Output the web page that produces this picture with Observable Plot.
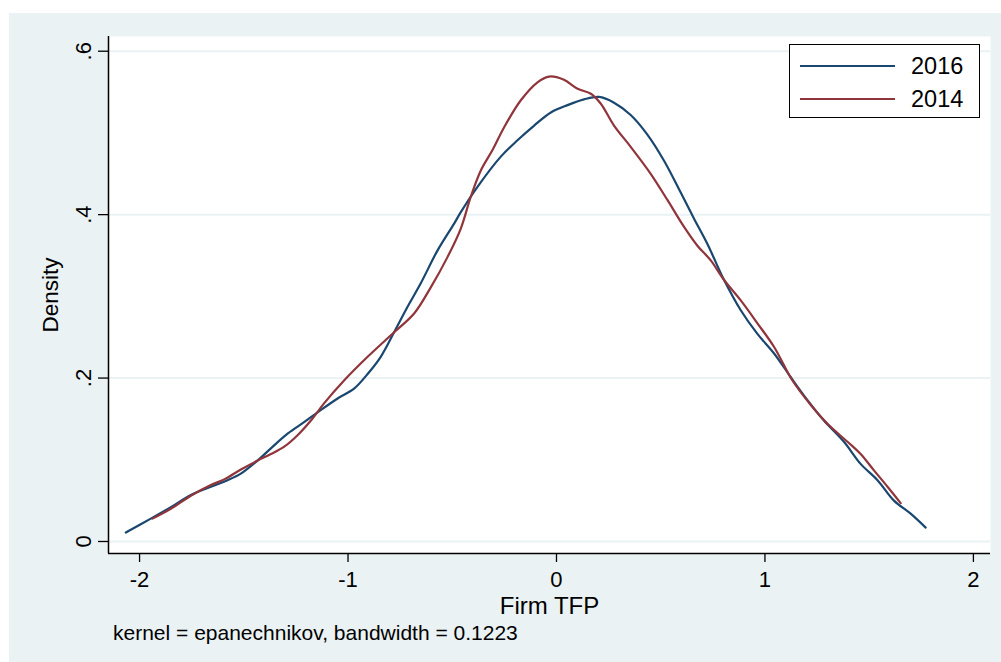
<!DOCTYPE html>
<html>
<head>
<meta charset="utf-8">
<script src="https://cdn.jsdelivr.net/npm/d3@7"></script>
<script src="https://cdn.jsdelivr.net/npm/@observablehq/plot@0.6"></script>
<style>
  html, body { margin: 0; padding: 0; background: #ffffff; width: 1001px; height: 662px; overflow: hidden; }
  body { position: relative; font-family: "Liberation Sans", Arial, sans-serif; }
  #bg { position: absolute; left: 9px; top: 13px; width: 992px; height: 649px; background: #eaf2f3; }
  #chart { position: absolute; left: 0; top: 0; }
  #legend { position: absolute; left: 789px; top: 44px; width: 189px; height: 72px; border: 1px solid #000; background: #fff; }
  #caption { position: absolute; left: 113px; top: 621px; font-size: 21px; line-height: 24px; color: #000; white-space: nowrap; }
</style>
</head>
<body>
<div id="bg"></div>
<div id="chart"></div>
<div id="legend"></div>
<div id="caption"></div>
<script>
// ---- data ----
const x2016 = [-2.066,-1.946,-1.850,-1.754,-1.658,-1.578,-1.514,-1.434,-1.370,-1.290,-1.211,-1.146,-1.050,-0.971,-0.906,-0.843,-0.779,-0.715,-0.651,-0.571,-0.491,-0.459,-0.379,-0.267,-0.187,-0.107,-0.027,0.053,0.132,0.204,0.276,0.356,0.436,0.516,0.596,0.660,0.724,0.804,0.884,0.964,1.044,1.124,1.204,1.283,1.379,1.459,1.540,1.619,1.699,1.771];
const y2016 = [0.011,0.028,0.042,0.057,0.067,0.075,0.083,0.099,0.114,0.132,0.146,0.158,0.175,0.187,0.205,0.226,0.256,0.287,0.316,0.356,0.389,0.403,0.434,0.471,0.491,0.509,0.525,0.534,0.541,0.544,0.537,0.522,0.498,0.466,0.427,0.395,0.364,0.320,0.283,0.254,0.230,0.201,0.173,0.148,0.122,0.095,0.075,0.050,0.034,0.017];
const x2014 = [-1.938,-1.850,-1.754,-1.658,-1.594,-1.514,-1.434,-1.370,-1.306,-1.242,-1.178,-1.115,-1.019,-0.906,-0.779,-0.683,-0.603,-0.523,-0.459,-0.411,-0.363,-0.307,-0.251,-0.171,-0.091,-0.035,0.036,0.101,0.165,0.212,0.276,0.356,0.452,0.532,0.612,0.676,0.740,0.804,0.884,0.964,1.044,1.132,1.220,1.300,1.396,1.459,1.523,1.588,1.651];
const y2014 = [0.028,0.040,0.056,0.069,0.076,0.088,0.099,0.107,0.116,0.130,0.148,0.169,0.197,0.226,0.256,0.279,0.311,0.348,0.383,0.422,0.454,0.479,0.507,0.540,0.562,0.569,0.565,0.554,0.548,0.536,0.509,0.483,0.450,0.418,0.385,0.362,0.344,0.320,0.295,0.267,0.238,0.197,0.167,0.144,0.122,0.107,0.087,0.067,0.047];
const seriesNames = ["2016", "2014"];
const seriesColors = ["#1a476f", "#90353b"];
const xTicks = [-2, -1, 0, 1, 2];
const yTicks = [0, 0.2, 0.4, 0.6];
const xLabel = "Firm TFP";
const yLabel = "Density";
const captionText = "kernel = epanechnikov, bandwidth = 0.1223";

// ---- build table ----
const rows = [];
x2016.forEach((x, i) => rows.push({series: "2016", x, y: y2016[i]}));
x2014.forEach((x, i) => rows.push({series: "2014", x, y: y2014[i]}));

const xDomain = [-2.149, 2.082];
const yDomain = [-0.0147, 0.618];
const yFmt = d => d === 0 ? "0" : d.toFixed(1).replace(/^0/, "");

const plot = Plot.plot({
  width: 1001,
  height: 662,
  marginLeft: 108,
  marginRight: 11,
  marginTop: 36,
  marginBottom: 109,
  style: {background: "transparent", fontFamily: "'Liberation Sans', Arial, sans-serif", color: "#000"},
  x: {domain: xDomain},
  y: {domain: yDomain},
  color: {domain: seriesNames, range: seriesColors},
  marks: [
    Plot.frame({fill: "#ffffff", stroke: null}),
    Plot.gridY(yTicks, {stroke: "#eaf2f3", strokeOpacity: 1, strokeWidth: 2}),
    Plot.axisX(xTicks, {tickSize: 9, tickPadding: 9, tickFormat: d => String(d), fontSize: 22, label: null, stroke: "#000", strokeWidth: 1.3}),
    Plot.axisY(yTicks, {tickSize: 10, tickPadding: 8, tickRotate: -90, tickFormat: yFmt, fontSize: 22, label: null, stroke: "#000", strokeWidth: 1.3}),
    Plot.ruleX([xDomain[0]], {stroke: "#000", strokeWidth: 1.5}),
    Plot.ruleY([yDomain[0]], {stroke: "#000", strokeWidth: 1.5}),
    Plot.line(rows, {x: "x", y: "y", z: "series", stroke: "series", strokeWidth: 2.2, curve: "catmull-rom"}),
    Plot.text([xLabel], {frameAnchor: "bottom", dy: 53, text: d => d, fontSize: 24, lineAnchor: "middle", fill: "#000"}),
    Plot.text([yLabel], {frameAnchor: "left", dx: -58, rotate: -90, text: d => d, fontSize: 22.5, lineAnchor: "middle", textAnchor: "middle", fill: "#000"})
  ]
});
document.getElementById("chart").appendChild(plot);

// legend
const leg = d3.select("#legend").append("svg").attr("width", 189).attr("height", 72)
  .style("font-family", "'Liberation Sans', Arial, sans-serif");
seriesNames.forEach((name, i) => {
  const cy = 21 + i * 33;
  leg.append("line").attr("x1", 10).attr("x2", 105).attr("y1", cy).attr("y2", cy)
    .attr("stroke", seriesColors[i]).attr("stroke-width", 2.2);
  leg.append("text").attr("x", 121).attr("y", cy).attr("dy", "0.35em")
    .attr("font-size", 23.5).attr("fill", "#000").text(name);
});

document.getElementById("caption").textContent = captionText;
</script>
</body>
</html>
